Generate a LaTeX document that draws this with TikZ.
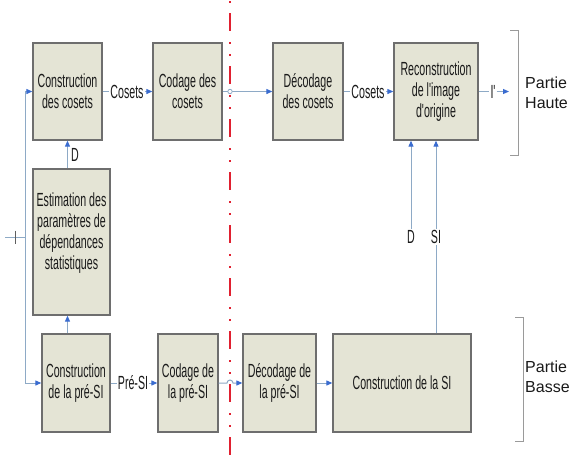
\documentclass[tikz,border=0pt]{standalone}
\usepackage{fontspec}
\setmainfont{Liberation Sans}
\newfontfamily\narrowfont[FakeStretch=0.56]{Liberation Sans}
\usetikzlibrary{arrows.meta}
\definecolor{boxfill}{HTML}{E4E4D5}
\definecolor{boxline}{HTML}{6E6E6E}
\definecolor{connline}{HTML}{8EAAC6}
\definecolor{headblue}{HTML}{3A6CD0}
\definecolor{sepred}{HTML}{E02030}
\definecolor{brack}{HTML}{9A9A9A}
\definecolor{txt}{HTML}{1A1A1A}
\tikzset{
  blk/.style={draw=boxline, line width=1.3pt, fill=boxfill, inner sep=0pt, align=center,
    text=txt, font=\narrowfont\fontsize{19}{21}\selectfont},
  conn/.style={draw=connline, line width=1pt},
  arr/.style={conn, -{Triangle[length=6pt,width=5pt,color=headblue]}},
  lbl/.style={font=\narrowfont\fontsize{19}{21}\selectfont, text=txt, inner sep=1pt, fill=white},
  part/.style={font=\fontsize{16}{20}\selectfont, text=txt, align=left, inner sep=0pt, anchor=west},
  brk/.style={draw=brack, line width=1pt}
}
\begin{document}
\begin{tikzpicture}[x=1pt,y=-1pt]
\useasboundingbox (0,0) rectangle (570,456);
\fill[white] (0,0) rectangle (570,456);
% separator
\draw[sepred, line width=2pt, dash pattern=on 18pt off 11pt on 1.5pt off 10.5pt on 1.5pt off 10.5pt, dash phase=40pt] (230,0) -- (230,456);
% boxes
\node[blk, minimum width=69pt, minimum height=97pt] (b1) at (67.5,91.5) {Construction\\des cosets};
\node[blk, minimum width=69pt, minimum height=97pt] (b2) at (187.5,91.5) {Codage des\\cosets};
\node[blk, minimum width=70pt, minimum height=97pt] (b3) at (308,91.5) {Décodage\\des cosets};
\node[blk, minimum width=84pt, minimum height=97pt] (b4) at (436,91.5) {Reconstruction\\de l'image\\d'origine};
\node[blk, minimum width=77pt, minimum height=146pt] (b5) at (71.5,242) {Estimation des\\paramètres de\\dépendances\\statistiques\\\mbox{}};
\node[blk, minimum width=68pt, minimum height=98pt] (b6) at (76,383) {Construction\\de la pré-SI};
\node[blk, minimum width=60pt, minimum height=98pt] (b7) at (188,383) {Codage de\\la pré-SI};
\node[blk, minimum width=73pt, minimum height=98pt] (b8) at (279.5,383) {Décodage de\\la pré-SI};
\node[blk, minimum width=138pt, minimum height=98pt] (b9) at (402,383) {Construction de la SI};
% labels
\node[lbl] (cos1) at (127,91.5) {Cosets};
\node[lbl] (cos2) at (368,91.5) {Cosets};
\node[lbl] (ip) at (493,91.5) {I'};
\node[lbl] (pre) at (133,383) {Pré-SI};
\node[lbl] (dl1) at (75,155) {D};
\node[lbl] (dl2) at (411,237) {D};
\node[lbl] (sil) at (436,237) {SI};
\coordinate (outc) at (509,91.5);
\coordinate (inL) at (5,237);
\coordinate (inJ) at (25,237);
\coordinate (inT) at (25,91.5);
\coordinate (inB) at (25,383);
\coordinate (hopL) at (227,383);
% connectors top
\draw[conn] (b1.east) -- (cos1.west);
\draw[arr] (cos1.east) -- (b2.west);
\draw[arr] (b2.east) -- (b3.west);
\draw[conn] (b3.east) -- (cos2.west);
\draw[arr] (cos2.east) -- (b4.west);
\draw[conn] (b4.east) -- (ip.west);
\draw[arr] (ip.east) -- (outc);
\draw[draw=connline, fill=white, line width=0.8pt] (230,91.5) circle[radius=2.2pt];
% input
\draw[conn] (inL) -- (inJ);
\draw[draw=txt!70, line width=1.2pt] (15.5,230.5) -- (15.5,244);
\draw[conn] (inT) -- (inB);
\draw[arr] (inT) -- (b1.west);
\draw[arr] (inB) -- (b6.west);
% vertical links
\draw[arr] (b1.south |- b5.north) -- (b1.south);
\draw[arr] (b1.south |- b6.north) -- (b1.south |- b5.south);
\draw[arr] (dl2.north) -- (dl2.north |- b4.south);
\draw[arr] (b4.south |- b9.north) -- (b4.south);
\node[lbl] at (sil) {SI};
% bottom connectors
\draw[conn] (b6.east) -- (pre.west);
\draw[arr] (pre.east) -- (b7.west);
\draw[arr] (b7.east) -- (hopL) arc[start angle=180, end angle=0, radius=3pt] -- (b8.west);
\draw[arr] (b8.east) -- (b9.west);
% brackets
\draw[brk] (510,30) -- (518,30) -- (518,155) -- (510,155);
\draw[brk] (515,317) -- (523,317) -- (523,441) -- (515,441);
\node[part] (ph) at (525,93) {Partie\\Haute};
\node[part] (pb) at (525,377) {Partie\\Basse};
\end{tikzpicture}
\end{document}
